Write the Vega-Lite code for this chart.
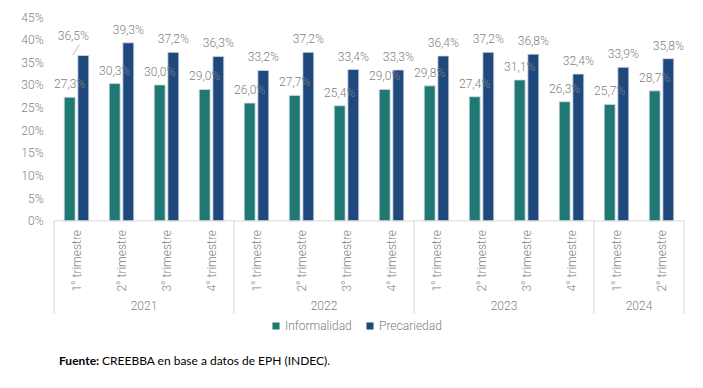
{
  "$schema": "https://vega.github.io/schema/vega-lite/v6.json",
  "width": 630,
  "height": 367,
  "autosize": {"type": "none"},
  "padding": {"left": 54, "right": 19, "top": 17, "bottom": 4},
  "background": "white",
  "config": {
    "view": {"stroke": null},
    "font": "Roboto",
    "locale": {"number": {"decimal": ",", "thousands": ".", "grouping": [3], "currency": ["$", ""]}}
  },
  "datasets": {
    "bars": [
      {"p": "2021-1", "q": "1° trimestre", "s": "Informalidad", "v": 0.273},
      {"p": "2021-1", "q": "1° trimestre", "s": "Precariedad", "v": 0.365},
      {"p": "2021-2", "q": "2° trimestre", "s": "Informalidad", "v": 0.303},
      {"p": "2021-2", "q": "2° trimestre", "s": "Precariedad", "v": 0.393},
      {"p": "2021-3", "q": "3° trimestre", "s": "Informalidad", "v": 0.300},
      {"p": "2021-3", "q": "3° trimestre", "s": "Precariedad", "v": 0.372},
      {"p": "2021-4", "q": "4° trimestre", "s": "Informalidad", "v": 0.290},
      {"p": "2021-4", "q": "4° trimestre", "s": "Precariedad", "v": 0.363},
      {"p": "2022-1", "q": "1° trimestre", "s": "Informalidad", "v": 0.260},
      {"p": "2022-1", "q": "1° trimestre", "s": "Precariedad", "v": 0.332},
      {"p": "2022-2", "q": "2° trimestre", "s": "Informalidad", "v": 0.277},
      {"p": "2022-2", "q": "2° trimestre", "s": "Precariedad", "v": 0.372},
      {"p": "2022-3", "q": "3° trimestre", "s": "Informalidad", "v": 0.254},
      {"p": "2022-3", "q": "3° trimestre", "s": "Precariedad", "v": 0.334},
      {"p": "2022-4", "q": "4° trimestre", "s": "Informalidad", "v": 0.290},
      {"p": "2022-4", "q": "4° trimestre", "s": "Precariedad", "v": 0.333},
      {"p": "2023-1", "q": "1° trimestre", "s": "Informalidad", "v": 0.298},
      {"p": "2023-1", "q": "1° trimestre", "s": "Precariedad", "v": 0.364},
      {"p": "2023-2", "q": "2° trimestre", "s": "Informalidad", "v": 0.274},
      {"p": "2023-2", "q": "2° trimestre", "s": "Precariedad", "v": 0.372},
      {"p": "2023-3", "q": "3° trimestre", "s": "Informalidad", "v": 0.311},
      {"p": "2023-3", "q": "3° trimestre", "s": "Precariedad", "v": 0.368},
      {"p": "2023-4", "q": "4° trimestre", "s": "Informalidad", "v": 0.263},
      {"p": "2023-4", "q": "4° trimestre", "s": "Precariedad", "v": 0.324},
      {"p": "2024-1", "q": "1° trimestre", "s": "Informalidad", "v": 0.257},
      {"p": "2024-1", "q": "1° trimestre", "s": "Precariedad", "v": 0.339},
      {"p": "2024-2", "q": "2° trimestre", "s": "Informalidad", "v": 0.287},
      {"p": "2024-2", "q": "2° trimestre", "s": "Precariedad", "v": 0.358}
    ],
    "years": [
      {"year": "2021", "first": "2021-1", "mid": "2021-2"},
      {"year": "2022", "first": "2022-1", "mid": "2022-2"},
      {"year": "2023", "first": "2023-1", "mid": "2023-2"},
      {"year": "2024", "first": "2024-1", "mid": "2024-1"}
    ]
  },
  "layer": [
    {
      "data": {"name": "bars"},
      "mark": {"type": "bar", "stroke": "#d3dbe6", "strokeWidth": 0.8},
      "encoding": {
        "x": {"field": "p", "type": "nominal", "scale": {"paddingInner": 0, "paddingOuter": 0}, "axis": null},
        "xOffset": {"field": "s", "type": "nominal", "scale": {"paddingInner": 0.2, "paddingOuter": 0.75}},
        "y": {
          "field": "v", "type": "quantitative",
          "scale": {"domain": [-0.36, 0.45], "nice": false, "zero": false},
          "axis": {"title": null, "values": [0, 0.05, 0.1, 0.15, 0.2, 0.25, 0.3, 0.35, 0.4, 0.45], "format": ".0%", "domain": false, "ticks": false, "grid": false, "labelPadding": 11, "labelFontSize": 12, "labelColor": "#7f7f7f", "labelFont": "Roboto", "labelFontWeight": 300}
        },
        "y2": {"datum": 0},
        "color": {
          "field": "s", "type": "nominal",
          "scale": {"domain": ["Informalidad", "Precariedad"], "range": ["#207872", "#1f497d"]},
          "legend": {"title": null, "orient": "none", "legendX": 216, "legendY": 303, "direction": "horizontal", "symbolType": "square", "symbolSize": 50, "symbolStrokeWidth": 0, "labelFontSize": 12, "labelColor": "#7f7f7f", "labelFontWeight": 300, "columnPadding": 12, "labelOffset": 3}
        }
      }
    },
    {
      "data": {"name": "bars"},
      "transform": [{"filter": "!(datum.p === '2021-1' && datum.s === 'Precariedad')"}],
      "mark": {"type": "text", "dy": -9, "baseline": "alphabetic", "fontSize": 12, "fontWeight": 300, "color": "#7f7f7f"},
      "encoding": {
        "x": {"field": "p", "type": "nominal"},
        "xOffset": {"field": "s", "type": "nominal"},
        "y": {"field": "v", "type": "quantitative"},
        "text": {"field": "v", "type": "quantitative", "format": ".1%"}
      }
    },
    {
      "data": {"name": "bars"},
      "transform": [{"filter": "datum.p === '2021-1' && datum.s === 'Precariedad'"}],
      "mark": {"type": "text", "dy": -16, "dx": -10, "baseline": "alphabetic", "fontSize": 12, "fontWeight": 300, "color": "#7f7f7f"},
      "encoding": {
        "x": {"field": "p", "type": "nominal"},
        "xOffset": {"field": "s", "type": "nominal"},
        "y": {"field": "v", "type": "quantitative"},
        "text": {"field": "v", "type": "quantitative", "format": ".1%"}
      }
    },
    {
      "data": {"values": [{}]},
      "mark": {"type": "rule", "color": "#a6a6a6", "strokeWidth": 0.8},
      "encoding": {
        "x": {"datum": "2021-1", "bandPosition": 0.42},
        "x2": {"datum": "2021-1", "bandPosition": 0.56},
        "y": {"datum": 0.366},
        "y2": {"datum": 0.389}
      }
    },
    {
      "data": {"values": [{}]},
      "mark": {"type": "rule", "color": "#d9d9d9", "strokeWidth": 1},
      "encoding": {"y": {"datum": 0}}
    },
    {
      "data": {"name": "years"},
      "mark": {"type": "rule", "color": "#d9d9d9", "strokeWidth": 1},
      "encoding": {
        "x": {"field": "first", "type": "nominal", "bandPosition": 0},
        "y": {"datum": 0},
        "y2": {"datum": -0.205}
      }
    },
    {
      "data": {"name": "years"},
      "transform": [{"filter": "datum.year === '2024'"}],
      "mark": {"type": "rule", "color": "#d9d9d9", "strokeWidth": 1},
      "encoding": {
        "x": {"datum": "2024-2", "bandPosition": 1},
        "y": {"datum": 0},
        "y2": {"datum": -0.205}
      }
    },
    {
      "data": {"name": "bars"},
      "transform": [{"filter": "datum.s === 'Informalidad'"}],
      "mark": {"type": "text", "angle": 270, "align": "right", "baseline": "middle", "fontSize": 12, "fontWeight": 300, "color": "#7f7f7f"},
      "encoding": {
        "x": {"field": "p", "type": "nominal"},
        "y": {"datum": -0.02},
        "text": {"field": "q", "type": "nominal"}
      }
    },
    {
      "data": {"name": "years"},
      "mark": {"type": "text", "align": "center", "baseline": "middle", "fontSize": 12, "fontWeight": 300, "color": "#7f7f7f"},
      "encoding": {
        "x": {"field": "mid", "type": "nominal", "bandPosition": 1},
        "y": {"datum": -0.188},
        "text": {"field": "year", "type": "nominal"}
      }
    },
    {
      "data": {"values": [{"t": "Fuente:"}]},
      "mark": {"type": "text", "align": "left", "baseline": "middle", "dx": 5, "font": "Lato", "fontWeight": "bold", "fontSize": 12, "color": "#000000"},
      "encoding": {
        "x": {"datum": "2021-1", "bandPosition": 0},
        "y": {"datum": -0.31},
        "text": {"field": "t", "type": "nominal"}
      }
    },
    {
      "data": {"values": [{"t": "CREEBBA en base a datos de EPH (INDEC)."}]},
      "mark": {"type": "text", "align": "left", "baseline": "middle", "dx": 48, "font": "Lato", "fontSize": 12, "color": "#000000"},
      "encoding": {
        "x": {"datum": "2021-1", "bandPosition": 0},
        "y": {"datum": -0.31},
        "text": {"field": "t", "type": "nominal"}
      }
    }
  ]
}
